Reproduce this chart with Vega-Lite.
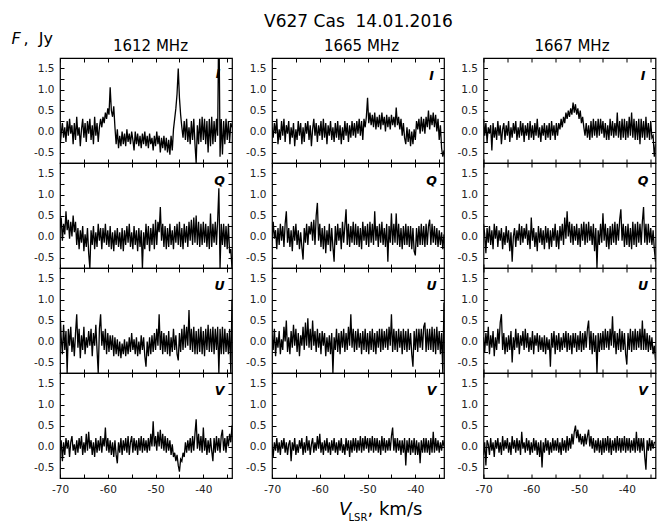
{
"$schema": "https://vega.github.io/schema/vega-lite/v6.json",
"padding": {"left": 10, "top": 13, "right": 0, "bottom": 0},
"background": "white",
"config": {
  "font": "DejaVu Sans",
  "view": {"stroke": "black", "strokeWidth": 1.2},
  "axis": {"grid": false, "domain": false, "tickColor": "black", "tickSize": -4, "tickWidth": 1, "labelFont": "DejaVu Sans", "labelFontSize": 10.5, "labelColor": "#222", "labelPadding": 10, "labelFlush": false, "titleFont": "DejaVu Sans", "titleColor": "black", "titleFontWeight": "normal"},
  "axisBottom": {"labelPadding": 10},
  "title": {"font": "DejaVu Sans", "fontWeight": "normal", "color": "black"}
},
"data": {"values": [
{"v":-70,"I1612":-0.4,"Q1612":0.2,"U1612":0.75,"V1612":-0.1,"I1665":0.1,"Q1665":-0.1,"U1665":0.15,"V1665":0.05,"I1667":0.3,"Q1667":0.3,"U1667":0.1,"V1667":-0.2},
{"v":-69.75,"I1612":-0.05,"Q1612":0.45,"U1612":0.1,"V1612":0.15,"I1665":-0.15,"Q1665":0.35,"U1665":-0.2,"V1665":-0.25,"I1667":-0.1,"Q1667":0.05,"U1667":-0.25,"V1667":0.1},
{"v":-69.5,"I1612":0.2,"Q1612":-0.1,"U1612":-0.3,"V1612":-0.35,"I1665":0.2,"Q1665":-0.05,"U1665":0.3,"V1665":0.1,"I1667":0.2,"Q1667":-0.4,"U1667":0.2,"V1667":-0.45},
{"v":-69.25,"I1612":-0.15,"Q1612":0.3,"U1612":0.4,"V1612":0.1,"I1665":-0.05,"Q1665":0.15,"U1665":-0.35,"V1665":-0.1,"I1667":-0.25,"Q1667":0.2,"U1667":-0.1,"V1667":0.15},
{"v":-69,"I1612":0.1,"Q1612":0.05,"U1612":-0.2,"V1612":-0.2,"I1665":0.3,"Q1665":-0.3,"U1665":0.1,"V1665":0.2,"I1667":0.1,"Q1667":-0.15,"U1667":0.35,"V1667":0.05},
{"v":-68.75,"I1612":-0.25,"Q1612":0.6,"U1612":0.25,"V1612":0.2,"I1665":-0.3,"Q1665":0.2,"U1665":-0.15,"V1665":-0.15,"I1667":-0.05,"Q1667":0.25,"U1667":-0.3,"V1667":-0.2},
{"v":-68.5,"I1612":0.25,"Q1612":0.15,"U1612":-0.75,"V1612":-0.05,"I1665":0.05,"Q1665":-0.2,"U1665":0.25,"V1665":0.1,"I1667":0.15,"Q1667":-0.2,"U1667":0.15,"V1667":0.2},
{"v":-68.25,"I1612":-0.1,"Q1612":0.4,"U1612":0.3,"V1612":0.15,"I1665":-0.2,"Q1665":0.3,"U1665":-0.3,"V1665":-0.2,"I1667":-0.45,"Q1667":0.15,"U1667":-0.15,"V1667":-0.1},
{"v":-68,"I1612":0.3,"Q1612":-0.05,"U1612":-0.1,"V1612":-0.25,"I1665":0.25,"Q1665":-0.1,"U1665":0.05,"V1665":0.15,"I1667":0.2,"Q1667":-0.3,"U1667":0.25,"V1667":0.1},
{"v":-67.75,"I1612":-0.05,"Q1612":0.35,"U1612":0.35,"V1612":0.1,"I1665":-0.1,"Q1665":0.25,"U1665":-0.2,"V1665":-0.05,"I1667":-0.15,"Q1667":0.3,"U1667":-0.35,"V1667":-0.25},
{"v":-67.5,"I1612":0.15,"Q1612":0,"U1612":-0.25,"V1612":0.25,"I1665":0.3,"Q1665":-0.25,"U1665":0.35,"V1665":0.2,"I1667":0.1,"Q1667":-0.05,"U1667":0.1,"V1667":0.15},
{"v":-67.25,"I1612":-0.3,"Q1612":0.5,"U1612":0.1,"V1612":-0.1,"I1665":-0.25,"Q1665":0.3,"U1665":0,"V1665":-0.15,"I1667":-0.2,"Q1667":0.25,"U1667":-0.2,"V1667":-0.05},
{"v":-67,"I1612":0.2,"Q1612":0.1,"U1612":-0.35,"V1612":0.05,"I1665":0.15,"Q1665":0.6,"U1665":0.5,"V1665":0.1,"I1667":0.25,"Q1667":-0.25,"U1667":0.3,"V1667":0.2},
{"v":-66.75,"I1612":-0.2,"Q1612":0.35,"U1612":0.2,"V1612":-0.2,"I1665":-0.05,"Q1665":-0.15,"U1665":-0.25,"V1665":-0.2,"I1667":-0.1,"Q1667":0.15,"U1667":-0.05,"V1667":-0.15},
{"v":-66.5,"I1612":0.35,"Q1612":-0.2,"U1612":0.65,"V1612":0.15,"I1665":0.25,"Q1665":0.2,"U1665":0.1,"V1665":0.05,"I1667":0.15,"Q1667":-0.1,"U1667":0.45,"V1667":0.1},
{"v":-66.25,"I1612":-0.1,"Q1612":0.2,"U1612":-0.15,"V1612":-0.15,"I1665":-0.3,"Q1665":-0.25,"U1665":-0.3,"V1665":0.15,"I1667":-0.3,"Q1667":0.2,"U1667":0.65,"V1667":-0.2},
{"v":-66,"I1612":0.1,"Q1612":-0.3,"U1612":0.3,"V1612":0.2,"I1665":0.1,"Q1665":0.15,"U1665":0.25,"V1665":-0.35,"I1667":0.05,"Q1667":-0.3,"U1667":-0.2,"V1667":0.25},
{"v":-65.75,"I1612":-0.35,"Q1612":0.15,"U1612":-0.4,"V1612":-0.05,"I1665":-0.15,"Q1665":-0.35,"U1665":-0.15,"V1665":0.1,"I1667":0.2,"Q1667":0.1,"U1667":0.2,"V1667":-0.1},
{"v":-65.5,"I1612":0.05,"Q1612":-0.15,"U1612":0.15,"V1612":0.25,"I1665":0.2,"Q1665":0.25,"U1665":0.4,"V1665":-0.1,"I1667":-0.2,"Q1667":-0.2,"U1667":-0.3,"V1667":0.15},
{"v":-65.25,"I1612":0.3,"Q1612":0.25,"U1612":-0.2,"V1612":-0.2,"I1665":-0.35,"Q1665":-0.1,"U1665":-0.1,"V1665":0.2,"I1667":0.15,"Q1667":0.25,"U1667":0.1,"V1667":-0.05},
{"v":-65,"I1612":-0.15,"Q1612":-0.35,"U1612":0.35,"V1612":0.1,"I1665":0.05,"Q1665":0.3,"U1665":0.3,"V1665":-0.2,"I1667":-0.1,"Q1667":-0.15,"U1667":-0.25,"V1667":0.2},
{"v":-64.75,"I1612":0.2,"Q1612":0.05,"U1612":-0.3,"V1612":-0.15,"I1665":-0.2,"Q1665":-0.2,"U1665":-0.25,"V1665":0.05,"I1667":0.25,"Q1667":0.15,"U1667":0.15,"V1667":-0.15},
{"v":-64.5,"I1612":-0.25,"Q1612":-0.25,"U1612":0.1,"V1612":0.3,"I1665":0.25,"Q1665":0.15,"U1665":0.2,"V1665":-0.15,"I1667":-0.25,"Q1667":-0.35,"U1667":-0.2,"V1667":0.1},
{"v":-64.25,"I1612":0.25,"Q1612":0.2,"U1612":-0.15,"V1612":-0.1,"I1665":-0.1,"Q1665":-0.3,"U1665":-0.35,"V1665":0.15,"I1667":0.1,"Q1667":0.1,"U1667":0.25,"V1667":-0.2},
{"v":-64,"I1612":-0.05,"Q1612":-0.4,"U1612":0.25,"V1612":0.35,"I1665":0.2,"Q1665":0.1,"U1665":0.15,"V1665":-0.05,"I1667":-0.15,"Q1667":-0.6,"U1667":-0.5,"V1667":0.25},
{"v":-63.75,"I1612":0.3,"Q1612":-0.75,"U1612":-0.1,"V1612":-0.05,"I1665":-0.3,"Q1665":-0.25,"U1665":-0.1,"V1665":0.2,"I1667":0.2,"Q1667":0,"U1667":0.1,"V1667":-0.05},
{"v":-63.5,"I1612":-0.2,"Q1612":0.15,"U1612":0.3,"V1612":0.15,"I1665":0.1,"Q1665":-0.55,"U1665":0.35,"V1665":-0.2,"I1667":-0.05,"Q1667":0.2,"U1667":-0.2,"V1667":0.15},
{"v":-63.25,"I1612":0.15,"Q1612":-0.2,"U1612":-0.35,"V1612":-0.2,"I1665":-0.25,"Q1665":0.2,"U1665":-0.2,"V1665":0.1,"I1667":0.25,"Q1667":-0.25,"U1667":0.3,"V1667":-0.15},
{"v":-63,"I1612":-0.3,"Q1612":0.25,"U1612":0.2,"V1612":0.1,"I1665":0.2,"Q1665":-0.15,"U1665":0.45,"V1665":-0.15,"I1667":-0.2,"Q1667":0.15,"U1667":-0.15,"V1667":0.2},
{"v":-62.75,"I1612":0.35,"Q1612":-0.3,"U1612":-0.1,"V1612":-0.25,"I1665":-0.05,"Q1665":0.3,"U1665":-0.1,"V1665":0.25,"I1667":0.1,"Q1667":-0.1,"U1667":0.2,"V1667":-0.1},
{"v":-62.5,"I1612":-0.1,"Q1612":0.1,"U1612":0.4,"V1612":0.2,"I1665":0.25,"Q1665":-0.2,"U1665":0.55,"V1665":-0.1,"I1667":-0.15,"Q1667":0.3,"U1667":-0.3,"V1667":0.15},
{"v":-62.25,"I1612":0.2,"Q1612":-0.25,"U1612":-0.2,"V1612":-0.15,"I1665":-0.2,"Q1665":0.25,"U1665":-0.15,"V1665":0.15,"I1667":0.25,"Q1667":-0.2,"U1667":0.15,"V1667":-0.2},
{"v":-62,"I1612":-0.25,"Q1612":0.3,"U1612":-0.75,"V1612":0.15,"I1665":0.15,"Q1665":0.05,"U1665":0.3,"V1665":-0.2,"I1667":-0.1,"Q1667":0.25,"U1667":-0.1,"V1667":0.35},
{"v":-61.75,"I1612":0.1,"Q1612":-0.1,"U1612":0.3,"V1612":-0.1,"I1665":-0.35,"Q1665":0.35,"U1665":-0.2,"V1665":0.05,"I1667":0.2,"Q1667":-0.15,"U1667":0.25,"V1667":-0.05},
{"v":-61.5,"I1612":0.3,"Q1612":0.2,"U1612":0.65,"V1612":0.25,"I1665":0.05,"Q1665":-0.1,"U1665":0.5,"V1665":0.2,"I1667":-0.25,"Q1667":0.2,"U1667":-0.2,"V1667":0.1},
{"v":-61.25,"I1612":0.1,"Q1612":-0.3,"U1612":-0.1,"V1612":-0.15,"I1665":0.3,"Q1665":0.4,"U1665":-0.1,"V1665":-0.15,"I1667":0.15,"Q1667":-0.05,"U1667":0.3,"V1667":-0.15},
{"v":-61,"I1612":0.35,"Q1612":0.2,"U1612":0.25,"V1612":0.2,"I1665":-0.1,"Q1665":-0.2,"U1665":0.25,"V1665":0.1,"I1667":-0.1,"Q1667":0.3,"U1667":-0.15,"V1667":0.2},
{"v":-60.75,"I1612":0.2,"Q1612":-0.15,"U1612":-0.2,"V1612":0,"I1665":0.2,"Q1665":0.5,"U1665":-0.25,"V1665":-0.1,"I1667":0.2,"Q1667":-0.2,"U1667":0.2,"V1667":-0.1},
{"v":-60.5,"I1612":0.45,"Q1612":0.3,"U1612":0.3,"V1612":0.45,"I1665":-0.25,"Q1665":0.8,"U1665":0.3,"V1665":0.25,"I1667":-0.2,"Q1667":0.15,"U1667":-0.25,"V1667":0.15},
{"v":-60.25,"I1612":0.3,"Q1612":-0.2,"U1612":-0.3,"V1612":-0.1,"I1665":0.15,"Q1665":-0.1,"U1665":-0.15,"V1665":-0.05,"I1667":0.25,"Q1667":-0.3,"U1667":0.1,"V1667":-0.2},
{"v":-60,"I1612":0.55,"Q1612":0.15,"U1612":0.2,"V1612":0.2,"I1665":-0.1,"Q1665":0.3,"U1665":0.2,"V1665":0.3,"I1667":-0.15,"Q1667":0.45,"U1667":-0.2,"V1667":0.1},
{"v":-59.75,"I1612":0.4,"Q1612":-0.25,"U1612":-0.25,"V1612":-0.15,"I1665":0.25,"Q1665":-0.25,"U1665":-0.3,"V1665":-0.15,"I1667":0.15,"Q1667":-0.1,"U1667":0.25,"V1667":-0.15},
{"v":-59.5,"I1612":1.05,"Q1612":0.25,"U1612":0.15,"V1612":0.15,"I1665":-0.2,"Q1665":0.2,"U1665":0.25,"V1665":0.1,"I1667":-0.2,"Q1667":0.2,"U1667":-0.3,"V1667":0.2},
{"v":-59.25,"I1612":0.5,"Q1612":-0.3,"U1612":-0.2,"V1612":-0.2,"I1665":0.3,"Q1665":-0.3,"U1665":-0.1,"V1665":-0.2,"I1667":0.2,"Q1667":-0.25,"U1667":0.15,"V1667":-0.1},
{"v":-59,"I1612":0.35,"Q1612":0.1,"U1612":0.15,"V1612":0.1,"I1665":-0.15,"Q1665":0.25,"U1665":0.2,"V1665":0.15,"I1667":-0.1,"Q1667":0.1,"U1667":-0.1,"V1667":0.15},
{"v":-58.75,"I1612":0.6,"Q1612":-0.35,"U1612":-0.35,"V1612":-0.25,"I1665":0.2,"Q1665":-0.4,"U1665":-0.35,"V1665":-0.1,"I1667":0.3,"Q1667":-0.35,"U1667":0.2,"V1667":-0.2},
{"v":-58.5,"I1612":0.1,"Q1612":0.15,"U1612":0.1,"V1612":0.15,"I1665":-0.3,"Q1665":0.15,"U1665":0.1,"V1665":0.2,"I1667":-0.15,"Q1667":0.25,"U1667":-0.25,"V1667":0.1},
{"v":-58.25,"I1612":-0.3,"Q1612":-0.2,"U1612":-0.3,"V1612":-0.2,"I1665":0.15,"Q1665":-0.2,"U1665":-0.25,"V1665":-0.15,"I1667":0.1,"Q1667":-0.15,"U1667":0.15,"V1667":-0.25},
{"v":-58,"I1612":0.05,"Q1612":0.2,"U1612":0.05,"V1612":-0.4,"I1665":-0.1,"Q1665":0.3,"U1665":0.15,"V1665":0.1,"I1667":-0.25,"Q1667":0.2,"U1667":-0.2,"V1667":0.15},
{"v":-57.75,"I1612":-0.4,"Q1612":-0.25,"U1612":-0.35,"V1612":0.1,"I1665":0.25,"Q1665":-0.35,"U1665":-0.3,"V1665":-0.2,"I1667":0.15,"Q1667":-0.2,"U1667":0.1,"V1667":-0.5},
{"v":-57.5,"I1612":-0.1,"Q1612":0.1,"U1612":0,"V1612":-0.15,"I1665":-0.2,"Q1665":0.2,"U1665":0.2,"V1665":0.15,"I1667":-0.1,"Q1667":0.15,"U1667":-0.25,"V1667":0.1},
{"v":-57.25,"I1612":-0.35,"Q1612":-0.3,"U1612":-0.4,"V1612":0.2,"I1665":0.1,"Q1665":-0.25,"U1665":-0.75,"V1665":-0.1,"I1667":0.2,"Q1667":-0.3,"U1667":0.15,"V1667":-0.15},
{"v":-57,"I1612":0,"Q1612":0.2,"U1612":-0.05,"V1612":-0.2,"I1665":-0.25,"Q1665":-0.6,"U1665":0.1,"V1665":0.2,"I1667":-0.2,"Q1667":0.25,"U1667":-0.3,"V1667":0.2},
{"v":-56.75,"I1612":-0.3,"Q1612":-0.35,"U1612":-0.3,"V1612":0.15,"I1665":0.2,"Q1665":0.25,"U1665":-0.2,"V1665":-0.15,"I1667":0.15,"Q1667":-0.15,"U1667":0.1,"V1667":-0.1},
{"v":-56.5,"I1612":-0.05,"Q1612":0.15,"U1612":0.05,"V1612":-0.1,"I1665":-0.15,"Q1665":-0.2,"U1665":0.3,"V1665":0.1,"I1667":-0.15,"Q1667":0.2,"U1667":-0.2,"V1667":0.15},
{"v":-56.25,"I1612":-0.35,"Q1612":-0.2,"U1612":-0.35,"V1612":0.2,"I1665":0.25,"Q1665":0.3,"U1665":-0.25,"V1665":-0.2,"I1667":0.2,"Q1667":-0.3,"U1667":0.05,"V1667":-0.2},
{"v":-56,"I1612":0.05,"Q1612":0.25,"U1612":0,"V1612":-0.15,"I1665":-0.2,"Q1665":-0.1,"U1665":0.2,"V1665":0.15,"I1667":-0.2,"Q1667":0.15,"U1667":-0.6,"V1667":0.1},
{"v":-55.75,"I1612":-0.25,"Q1612":-0.15,"U1612":-0.3,"V1612":0.25,"I1665":0.15,"Q1665":0.2,"U1665":-0.3,"V1665":-0.1,"I1667":0.25,"Q1667":-0.25,"U1667":0.2,"V1667":-0.15},
{"v":-55.5,"I1612":-0.05,"Q1612":0.3,"U1612":0.1,"V1612":-0.2,"I1665":-0.3,"Q1665":-0.3,"U1665":0.25,"V1665":0.2,"I1667":-0.1,"Q1667":0.2,"U1667":-0.15,"V1667":0.2},
{"v":-55.25,"I1612":-0.3,"Q1612":-0.25,"U1612":-0.25,"V1612":0.1,"I1665":0.1,"Q1665":0.35,"U1665":-0.15,"V1665":-0.15,"I1667":0.15,"Q1667":-0.1,"U1667":0.25,"V1667":-0.1},
{"v":-55,"I1612":0,"Q1612":0.1,"U1612":0.2,"V1612":0.25,"I1665":-0.2,"Q1665":-0.15,"U1665":0.3,"V1665":0.05,"I1667":-0.2,"Q1667":0.3,"U1667":-0.3,"V1667":0.15},
{"v":-54.75,"I1612":-0.2,"Q1612":-0.3,"U1612":-0.2,"V1612":-0.15,"I1665":0.25,"Q1665":0.25,"U1665":-0.25,"V1665":-0.2,"I1667":0.2,"Q1667":-0.25,"U1667":0.15,"V1667":-0.1},
{"v":-54.5,"I1612":-0.45,"Q1612":0.25,"U1612":0.05,"V1612":0.2,"I1665":-0.1,"Q1665":0.65,"U1665":0.2,"V1665":0.2,"I1667":-0.1,"Q1667":0.15,"U1667":-0.2,"V1667":0.2},
{"v":-54.25,"I1612":0,"Q1612":-0.2,"U1612":-0.3,"V1612":-0.1,"I1665":0.2,"Q1665":-0.2,"U1665":-0.2,"V1665":-0.1,"I1667":0.2,"Q1667":-0.3,"U1667":0.2,"V1667":-0.15},
{"v":-54,"I1612":-0.3,"Q1612":0.15,"U1612":0.1,"V1612":0.15,"I1665":-0.25,"Q1665":0.3,"U1665":0.35,"V1665":0.15,"I1667":0.05,"Q1667":0.25,"U1667":-0.25,"V1667":0.1},
{"v":-53.75,"I1612":-0.05,"Q1612":-0.35,"U1612":-0.35,"V1612":-0.2,"I1665":0.15,"Q1665":-0.25,"U1665":-0.1,"V1665":-0.25,"I1667":0.3,"Q1667":-0.1,"U1667":0.1,"V1667":-0.2},
{"v":-53.5,"I1612":-0.35,"Q1612":0.2,"U1612":0,"V1612":0.2,"I1665":-0.15,"Q1665":0.25,"U1665":0.65,"V1665":0.15,"I1667":0.1,"Q1667":0.3,"U1667":-0.2,"V1667":0.2},
{"v":-53.25,"I1612":-0.1,"Q1612":-0.25,"U1612":-0.3,"V1612":-0.1,"I1665":0.25,"Q1665":-0.15,"U1665":-0.15,"V1665":-0.15,"I1667":0.35,"Q1667":-0.2,"U1667":0.2,"V1667":-0.1},
{"v":-53,"I1612":-0.4,"Q1612":0.15,"U1612":0.15,"V1612":0.25,"I1665":-0.1,"Q1665":0.35,"U1665":0.3,"V1665":0.2,"I1667":0.2,"Q1667":0.45,"U1667":-0.15,"V1667":0.15},
{"v":-52.75,"I1612":-0.05,"Q1612":-0.75,"U1612":-0.2,"V1612":-0.15,"I1665":0.2,"Q1665":-0.2,"U1665":-0.25,"V1665":-0.1,"I1667":0.45,"Q1667":-0.05,"U1667":0.25,"V1667":-0.15},
{"v":-52.5,"I1612":-0.3,"Q1612":0.1,"U1612":0.1,"V1612":0.2,"I1665":-0.15,"Q1665":0.3,"U1665":0.25,"V1665":0.2,"I1667":0.3,"Q1667":0.6,"U1667":-0.25,"V1667":0.25},
{"v":-52.25,"I1612":0,"Q1612":-0.3,"U1612":-0.35,"V1612":-0.1,"I1665":0.25,"Q1665":-0.2,"U1665":-0.2,"V1665":-0.15,"I1667":0.5,"Q1667":0,"U1667":0.2,"V1667":-0.1},
{"v":-52,"I1612":-0.35,"Q1612":0.3,"U1612":-0.6,"V1612":0.15,"I1665":-0.05,"Q1665":0.25,"U1665":0.3,"V1665":0.15,"I1667":0.35,"Q1667":0.35,"U1667":-0.2,"V1667":0.2},
{"v":-51.75,"I1612":-0.1,"Q1612":-0.2,"U1612":0,"V1612":-0.15,"I1665":0.3,"Q1665":-0.25,"U1665":-0.15,"V1665":-0.1,"I1667":0.55,"Q1667":-0.15,"U1667":0.15,"V1667":-0.05},
{"v":-51.5,"I1612":-0.4,"Q1612":0.25,"U1612":-0.35,"V1612":0.2,"I1665":-0.1,"Q1665":0.2,"U1665":0.2,"V1665":0.25,"I1667":0.4,"Q1667":0.3,"U1667":-0.3,"V1667":0.3},
{"v":-51.25,"I1612":-0.05,"Q1612":-0.35,"U1612":0.1,"V1612":-0.1,"I1665":0.25,"Q1665":-0.3,"U1665":-0.3,"V1665":-0.15,"I1667":0.69,"Q1667":-0.2,"U1667":0.2,"V1667":0.05},
{"v":-51,"I1612":-0.3,"Q1612":0.2,"U1612":-0.3,"V1612":0.3,"I1665":-0.2,"Q1665":0.35,"U1665":0.25,"V1665":0.2,"I1667":0.45,"Q1667":0.25,"U1667":-0.15,"V1667":0.35},
{"v":-50.75,"I1612":-0.15,"Q1612":-0.2,"U1612":0.15,"V1612":0,"I1665":0.3,"Q1665":-0.1,"U1665":-0.2,"V1665":-0.1,"I1667":0.65,"Q1667":-0.1,"U1667":0.2,"V1667":0.5},
{"v":-50.5,"I1612":-0.45,"Q1612":0.3,"U1612":-0.25,"V1612":0.6,"I1665":0.1,"Q1665":0.25,"U1665":0.3,"V1665":0.25,"I1667":0.4,"Q1667":0.3,"U1667":-0.25,"V1667":0.2},
{"v":-50.25,"I1612":-0.1,"Q1612":-0.3,"U1612":0.2,"V1612":0,"I1665":0.35,"Q1665":-0.2,"U1665":-0.25,"V1665":-0.05,"I1667":0.55,"Q1667":-0.2,"U1667":0.15,"V1667":0.4},
{"v":-50,"I1612":-0.35,"Q1612":0.4,"U1612":-0.2,"V1612":0.25,"I1665":0.8,"Q1665":0.3,"U1665":0.2,"V1665":0.2,"I1667":0.3,"Q1667":0.2,"U1667":-0.2,"V1667":0.1},
{"v":-49.75,"I1612":0,"Q1612":-0.2,"U1612":0.3,"V1612":-0.1,"I1665":0.2,"Q1665":-0.25,"U1665":-0.3,"V1665":-0.15,"I1667":0.5,"Q1667":-0.25,"U1667":0.25,"V1667":0.3},
{"v":-49.5,"I1612":-0.3,"Q1612":0.35,"U1612":-0.1,"V1612":0.35,"I1665":0.45,"Q1665":0.35,"U1665":0.25,"V1665":0.2,"I1667":0.2,"Q1667":0.3,"U1667":-0.25,"V1667":0.05},
{"v":-49.25,"I1612":-0.1,"Q1612":0.1,"U1612":0.65,"V1612":0,"I1665":0.15,"Q1665":-0.15,"U1665":-0.2,"V1665":-0.1,"I1667":0.35,"Q1667":-0.1,"U1667":0.2,"V1667":0.25},
{"v":-49,"I1612":-0.5,"Q1612":0.7,"U1612":-0.2,"V1612":0.4,"I1665":0.4,"Q1665":0.3,"U1665":0.3,"V1665":0.25,"I1667":0.1,"Q1667":0.35,"U1667":-0.2,"V1667":0},
{"v":-48.75,"I1612":-0.15,"Q1612":-0.1,"U1612":0.25,"V1612":-0.05,"I1665":0.1,"Q1665":-0.2,"U1665":-0.25,"V1665":-0.15,"I1667":-0.1,"Q1667":-0.2,"U1667":0.25,"V1667":0.3},
{"v":-48.5,"I1612":-0.4,"Q1612":0.3,"U1612":-0.3,"V1612":0.3,"I1665":0.45,"Q1665":0.6,"U1665":0.2,"V1665":0.2,"I1667":0.2,"Q1667":0.3,"U1667":-0.15,"V1667":0.05},
{"v":-48.25,"I1612":-0.1,"Q1612":-0.25,"U1612":0.2,"V1612":-0.1,"I1665":0.05,"Q1665":-0.1,"U1665":-0.3,"V1665":-0.1,"I1667":-0.15,"Q1667":-0.15,"U1667":0.3,"V1667":0.25},
{"v":-48,"I1612":-0.45,"Q1612":0.25,"U1612":-0.25,"V1612":0.25,"I1665":0.35,"Q1665":0.25,"U1665":0.25,"V1665":0.2,"I1667":0.15,"Q1667":0.35,"U1667":0.5,"V1667":0.4},
{"v":-47.75,"I1612":-0.15,"Q1612":-0.3,"U1612":0.15,"V1612":-0.15,"I1665":0.1,"Q1665":-0.25,"U1665":-0.15,"V1665":-0.15,"I1667":-0.2,"Q1667":-0.1,"U1667":-0.2,"V1667":0},
{"v":-47.5,"I1612":-0.5,"Q1612":0.2,"U1612":-0.3,"V1612":0.2,"I1665":0.4,"Q1665":0.3,"U1665":0.3,"V1665":0.15,"I1667":0.25,"Q1667":0.25,"U1667":0.25,"V1667":0.25},
{"v":-47.25,"I1612":-0.2,"Q1612":-0.25,"U1612":0.25,"V1612":-0.1,"I1665":0.05,"Q1665":-0.15,"U1665":-0.25,"V1665":-0.2,"I1667":-0.15,"Q1667":-0.2,"U1667":-0.3,"V1667":-0.05},
{"v":-47,"I1612":-0.55,"Q1612":0.3,"U1612":-0.35,"V1612":0.15,"I1665":0.45,"Q1665":0.35,"U1665":0.3,"V1665":0.25,"I1667":0.3,"Q1667":0.3,"U1667":0.2,"V1667":0.2},
{"v":-46.75,"I1612":-0.1,"Q1612":-0.2,"U1612":0.1,"V1612":-0.2,"I1665":0.15,"Q1665":-0.2,"U1665":-0.2,"V1665":-0.1,"I1667":-0.1,"Q1667":-0.35,"U1667":-0.25,"V1667":-0.15},
{"v":-46.5,"I1612":-0.45,"Q1612":0.15,"U1612":-0.25,"V1612":0.05,"I1665":0.35,"Q1665":0.2,"U1665":0.25,"V1665":0.2,"I1667":0.25,"Q1667":0.2,"U1667":0.15,"V1667":0.15},
{"v":-46.25,"I1612":0.05,"Q1612":-0.3,"U1612":0.3,"V1612":-0.25,"I1665":0,"Q1665":-0.25,"U1665":-0.15,"V1665":-0.15,"I1667":-0.15,"Q1667":-0.75,"U1667":-0.75,"V1667":-0.1},
{"v":-46,"I1612":0.3,"Q1612":0.25,"U1612":-0.2,"V1612":-0.15,"I1665":0.4,"Q1665":0.3,"U1665":0.3,"V1665":0.15,"I1667":0.3,"Q1667":0.15,"U1667":0.2,"V1667":0.2},
{"v":-45.75,"I1612":0.55,"Q1612":-0.15,"U1612":0.15,"V1612":-0.35,"I1665":0.1,"Q1665":-0.6,"U1665":-0.2,"V1665":-0.1,"I1667":-0.1,"Q1667":-0.2,"U1667":-0.25,"V1667":-0.15},
{"v":-45.5,"I1612":0.9,"Q1612":0.3,"U1612":-0.3,"V1612":-0.2,"I1665":0.35,"Q1665":0.25,"U1665":0.35,"V1665":0.2,"I1667":0.3,"Q1667":0.3,"U1667":0.2,"V1667":0.15},
{"v":-45.25,"I1612":1.5,"Q1612":-0.2,"U1612":-0.45,"V1612":-0.45,"I1665":0.05,"Q1665":-0.15,"U1665":-0.1,"V1665":-0.1,"I1667":-0.05,"Q1667":-0.15,"U1667":-0.2,"V1667":-0.2},
{"v":-45,"I1612":0.8,"Q1612":0.35,"U1612":0.2,"V1612":-0.6,"I1665":0.4,"Q1665":0.55,"U1665":0.65,"V1665":0.25,"I1667":0.25,"Q1667":0.55,"U1667":0.25,"V1667":0.2},
{"v":-44.75,"I1612":0.4,"Q1612":-0.25,"U1612":-0.25,"V1612":-0.3,"I1665":0.15,"Q1665":-0.2,"U1665":-0.25,"V1665":0.45,"I1667":-0.15,"Q1667":-0.1,"U1667":-0.2,"V1667":-0.15},
{"v":-44.5,"I1612":0.1,"Q1612":0.2,"U1612":0.3,"V1612":-0.35,"I1665":0.35,"Q1665":0.3,"U1665":0.3,"V1665":-0.1,"I1667":0.2,"Q1667":0.3,"U1667":0.3,"V1667":0.2},
{"v":-44.25,"I1612":-0.15,"Q1612":-0.3,"U1612":-0.2,"V1612":-0.15,"I1665":0.1,"Q1665":-0.15,"U1665":-0.2,"V1665":0.2,"I1667":-0.2,"Q1667":-0.25,"U1667":-0.15,"V1667":-0.1},
{"v":-44,"I1612":0.25,"Q1612":0.3,"U1612":0.4,"V1612":-0.25,"I1665":0.57,"Q1665":0.55,"U1665":0.25,"V1665":-0.15,"I1667":0.15,"Q1667":0.2,"U1667":0.25,"V1667":0.25},
{"v":-43.75,"I1612":-0.2,"Q1612":-0.15,"U1612":-0.15,"V1612":0.1,"I1665":0.15,"Q1665":-0.2,"U1665":-0.25,"V1665":0.2,"I1667":-0.2,"Q1667":-0.3,"U1667":-0.2,"V1667":-0.15},
{"v":-43.5,"I1612":0.3,"Q1612":0.25,"U1612":0.35,"V1612":-0.15,"I1665":0.35,"Q1665":0.3,"U1665":0.3,"V1665":-0.1,"I1667":0.3,"Q1667":0.25,"U1667":0.3,"V1667":0.2},
{"v":-43.25,"I1612":-0.25,"Q1612":-0.25,"U1612":-0.1,"V1612":0.15,"I1665":0.05,"Q1665":-0.25,"U1665":-0.15,"V1665":0.15,"I1667":-0.1,"Q1667":-0.2,"U1667":-0.1,"V1667":-0.2},
{"v":-43,"I1612":0.1,"Q1612":0.35,"U1612":0.75,"V1612":-0.1,"I1665":0.3,"Q1665":0.2,"U1665":0.25,"V1665":-0.2,"I1667":0.25,"Q1667":0.3,"U1667":0.6,"V1667":0.15},
{"v":-42.75,"I1612":-0.3,"Q1612":-0.1,"U1612":-0.2,"V1612":0.2,"I1665":-0.1,"Q1665":-0.3,"U1665":-0.3,"V1665":0.15,"I1667":-0.15,"Q1667":-0.15,"U1667":-0.15,"V1667":-0.1},
{"v":-42.5,"I1612":0.25,"Q1612":0.4,"U1612":0.3,"V1612":-0.15,"I1665":0.2,"Q1665":0.25,"U1665":0.3,"V1665":-0.15,"I1667":0.2,"Q1667":0.35,"U1667":0.25,"V1667":0.2},
{"v":-42.25,"I1612":-0.2,"Q1612":-0.2,"U1612":-0.25,"V1612":0.25,"I1665":-0.15,"Q1665":-0.2,"U1665":-0.2,"V1665":0.2,"I1667":-0.1,"Q1667":-0.2,"U1667":-0.3,"V1667":-0.15},
{"v":-42,"I1612":0.3,"Q1612":0.45,"U1612":0.35,"V1612":-0.1,"I1665":-0.3,"Q1665":0.3,"U1665":0.25,"V1665":-0.45,"I1667":0.45,"Q1667":0.3,"U1667":0.2,"V1667":0.25},
{"v":-41.75,"I1612":-0.3,"Q1612":-0.15,"U1612":-0.3,"V1612":0.3,"I1665":0.1,"Q1665":-0.2,"U1665":-0.25,"V1665":0.15,"I1667":-0.15,"Q1667":-0.1,"U1667":-0.2,"V1667":-0.1},
{"v":-41.5,"I1612":-0.75,"Q1612":0.5,"U1612":0.25,"V1612":0.65,"I1665":-0.25,"Q1665":0.25,"U1665":0.3,"V1665":-0.15,"I1667":0.25,"Q1667":0.4,"U1667":0.3,"V1667":0.2},
{"v":-41.25,"I1612":0.15,"Q1612":-0.2,"U1612":-0.3,"V1612":-0.05,"I1665":0.05,"Q1665":-0.25,"U1665":-0.2,"V1665":0.2,"I1667":-0.2,"Q1667":0.65,"U1667":-0.25,"V1667":-0.15},
{"v":-41,"I1612":-0.3,"Q1612":0.35,"U1612":0.3,"V1612":0.3,"I1665":-0.35,"Q1665":0.25,"U1665":0.2,"V1665":-0.2,"I1667":0.3,"Q1667":-0.1,"U1667":0.25,"V1667":0.2},
{"v":-40.75,"I1612":0.3,"Q1612":-0.25,"U1612":-0.25,"V1612":-0.1,"I1665":0,"Q1665":-0.3,"U1665":-0.3,"V1665":0.15,"I1667":-0.15,"Q1667":0.3,"U1667":-0.2,"V1667":-0.1},
{"v":-40.5,"I1612":-0.25,"Q1612":0.3,"U1612":0.35,"V1612":0.25,"I1665":-0.3,"Q1665":0.2,"U1665":-0.6,"V1665":-0.15,"I1667":0.3,"Q1667":-0.25,"U1667":0.2,"V1667":0.25},
{"v":-40.25,"I1612":0.35,"Q1612":-0.2,"U1612":-0.3,"V1612":-0.15,"I1665":0.05,"Q1665":-0.35,"U1665":0.25,"V1665":0.2,"I1667":-0.2,"Q1667":0.25,"U1667":-0.3,"V1667":-0.15},
{"v":-40,"I1612":-0.2,"Q1612":0.35,"U1612":0.25,"V1612":0.45,"I1665":-0.2,"Q1665":-0.45,"U1665":-0.2,"V1665":-0.2,"I1667":0.25,"Q1667":-0.2,"U1667":-0.55,"V1667":0.2},
{"v":-39.75,"I1612":0.3,"Q1612":-0.15,"U1612":-0.35,"V1612":-0.1,"I1665":0.25,"Q1665":0.2,"U1665":0.3,"V1665":0.15,"I1667":-0.15,"Q1667":0.3,"U1667":0.2,"V1667":-0.1},
{"v":-39.5,"I1612":-0.3,"Q1612":0.3,"U1612":0.3,"V1612":0.2,"I1665":0.05,"Q1665":-0.25,"U1665":-0.25,"V1665":-0.2,"I1667":0.35,"Q1667":-0.25,"U1667":-0.2,"V1667":0.2},
{"v":-39.25,"I1612":0.25,"Q1612":-0.25,"U1612":-0.2,"V1612":-0.2,"I1665":0.3,"Q1665":0.25,"U1665":0.3,"V1665":0.1,"I1667":-0.1,"Q1667":0.2,"U1667":0.3,"V1667":-0.15},
{"v":-39,"I1612":-0.5,"Q1612":0.25,"U1612":0.4,"V1612":0.15,"I1665":-0.05,"Q1665":-0.2,"U1665":-0.15,"V1665":-0.4,"I1667":0.45,"Q1667":-0.3,"U1667":-0.25,"V1667":0.15},
{"v":-38.75,"I1612":0.3,"Q1612":-0.3,"U1612":-0.25,"V1612":-0.15,"I1665":0.35,"Q1665":0.3,"U1665":0.3,"V1665":0.15,"I1667":-0.15,"Q1667":0.35,"U1667":0.25,"V1667":-0.1},
{"v":-38.5,"I1612":-0.35,"Q1612":0.55,"U1612":0.3,"V1612":0.2,"I1665":0,"Q1665":-0.2,"U1665":-0.2,"V1665":-0.15,"I1667":0.3,"Q1667":-0.2,"U1667":-0.2,"V1667":0.2},
{"v":-38.25,"I1612":0.35,"Q1612":-0.25,"U1612":-0.25,"V1612":-0.1,"I1665":0.3,"Q1665":0.25,"U1665":0.35,"V1665":0.2,"I1667":-0.2,"Q1667":0.3,"U1667":0.3,"V1667":-0.15},
{"v":-38,"I1612":-0.3,"Q1612":0.3,"U1612":0.35,"V1612":-0.35,"I1665":-0.05,"Q1665":-0.25,"U1665":0.45,"V1665":-0.15,"I1667":0.25,"Q1667":-0.25,"U1667":-0.2,"V1667":0.35},
{"v":-37.75,"I1612":0.25,"Q1612":-0.15,"U1612":-0.3,"V1612":0.2,"I1665":0.35,"Q1665":0.3,"U1665":-0.25,"V1665":0.2,"I1667":-0.2,"Q1667":0.35,"U1667":0.25,"V1667":-0.1},
{"v":-37.5,"I1612":-0.25,"Q1612":0.35,"U1612":0.3,"V1612":-0.15,"I1665":0.1,"Q1665":-0.2,"U1665":0.3,"V1665":-0.15,"I1667":0.3,"Q1667":-0.15,"U1667":-0.15,"V1667":0.2},
{"v":-37.25,"I1612":0.3,"Q1612":-0.2,"U1612":-0.2,"V1612":0.25,"I1665":0.5,"Q1665":0.25,"U1665":-0.2,"V1665":0.15,"I1667":-0.3,"Q1667":0.3,"U1667":0.3,"V1667":-0.15},
{"v":-37,"I1612":-0.1,"Q1612":0.4,"U1612":0.35,"V1612":-0.1,"I1665":0.05,"Q1665":0.4,"U1665":0.3,"V1665":-0.2,"I1667":0.3,"Q1667":-0.2,"U1667":-0.2,"V1667":0.2},
{"v":-36.75,"I1612":3.0,"Q1612":1.15,"U1612":-0.75,"V1612":0.2,"I1665":0.4,"Q1665":-0.2,"U1665":-0.2,"V1665":0.2,"I1667":-0.15,"Q1667":0.35,"U1667":0.5,"V1667":-0.1},
{"v":-36.5,"I1612":-0.6,"Q1612":-0.75,"U1612":0.3,"V1612":-0.15,"I1665":0.15,"Q1665":0.3,"U1665":0.35,"V1665":-0.15,"I1667":0.25,"Q1667":0.7,"U1667":-0.2,"V1667":0.2},
{"v":-36.25,"I1612":0.3,"Q1612":0.3,"U1612":-0.3,"V1612":0.25,"I1665":0.45,"Q1665":-0.15,"U1665":-0.25,"V1665":0.35,"I1667":-0.2,"Q1667":-0.15,"U1667":0.3,"V1667":-0.25},
{"v":-36,"I1612":-0.55,"Q1612":-0.2,"U1612":0.35,"V1612":0.4,"I1665":0.1,"Q1665":0.25,"U1665":0.3,"V1665":-0.15,"I1667":0.35,"Q1667":0.3,"U1667":-0.2,"V1667":-0.55},
{"v":-35.75,"I1612":0.25,"Q1612":0.3,"U1612":-0.3,"V1612":-0.1,"I1665":0.4,"Q1665":-0.2,"U1665":-0.3,"V1665":0.2,"I1667":-0.15,"Q1667":-0.2,"U1667":0.2,"V1667":0.15},
{"v":-35.5,"I1612":-0.3,"Q1612":-0.25,"U1612":0.3,"V1612":0.2,"I1665":0,"Q1665":0.2,"U1665":0.35,"V1665":-0.1,"I1667":0.2,"Q1667":0.3,"U1667":-0.25,"V1667":-0.1},
{"v":-35.25,"I1612":0.3,"Q1612":0.25,"U1612":-0.25,"V1612":-0.15,"I1665":0.3,"Q1665":-0.25,"U1665":-0.2,"V1665":0.15,"I1667":-0.2,"Q1667":-0.15,"U1667":0.15,"V1667":0.2},
{"v":-35,"I1612":-0.2,"Q1612":-0.3,"U1612":0.2,"V1612":0.25,"I1665":-0.2,"Q1665":0.15,"U1665":0.25,"V1665":-0.15,"I1667":0.25,"Q1667":0.2,"U1667":-0.2,"V1667":-0.1},
{"v":-34.75,"I1612":0.25,"Q1612":0.3,"U1612":-0.3,"V1612":0,"I1665":0.15,"Q1665":-0.2,"U1665":-0.3,"V1665":0.1,"I1667":-0.15,"Q1667":-0.2,"U1667":0.1,"V1667":0.15},
{"v":-34.5,"I1612":-0.25,"Q1612":-0.4,"U1612":0.3,"V1612":0.3,"I1665":-0.4,"Q1665":0.1,"U1665":0.2,"V1665":-0.1,"I1667":-0.1,"Q1667":0.15,"U1667":-0.3,"V1667":-0.05},
{"v":-34.25,"I1612":0.2,"Q1612":-0.3,"U1612":-0.75,"V1612":0.1,"I1665":-0.6,"Q1665":-0.3,"U1665":-0.75,"V1665":0.15,"I1667":-0.6,"Q1667":-0.3,"U1667":-0.1,"V1667":0.1},
{"v":-34,"I1612":0.1,"Q1612":-0.75,"U1612":1.0,"V1612":0.5,"I1665":-0.45,"Q1665":0.05,"U1665":0.93,"V1665":0,"I1667":-0.3,"Q1667":-0.6,"U1667":-0.45,"V1667":0.1}
]},
"title": {"text": "V627 Cas\u00a0 14.01.2016", "fontSize": 17, "anchor": "middle", "frame": "bounds", "baseline": "alphabetic", "offset": -15, "dx": 25},
"spacing": 10,
"hconcat": [
{"spacing": 0, "bounds": "flush",
 "vconcat": [
  {"width": 172, "height": 105, "layer": [
    {"mark": {"type": "line", "color": "black", "strokeWidth": 1.3, "clip": true},
     "encoding": {
      "x": {"field": "v", "type": "quantitative", "scale": {"domain": [-70, -34], "nice": false, "zero": false}, "axis": {"orient": "bottom", "values": [-70,-65,-60,-55,-50,-45,-40,-35], "labels": false, "title": null}},
      "y": {"field": "I1612", "type": "quantitative", "scale": {"domain": [-0.75, 1.75], "nice": false, "zero": false}, "axis": {"orient": "left", "values": [-0.5,-0.25,0,0.25,0.5,0.75,1,1.25,1.5], "labelExpr": "datum.value % 0.5 == 0 ? (datum.value < 0 ? '-' + format(-datum.value, '.1f') : format(datum.value, '.1f')) : ''", "title": "F", "titleX": -49, "titleY": -15, "titleAngle": 0, "titleAlign": "left", "titleBaseline": "alphabetic", "titleFontSize": 16, "titleFontStyle": "italic"}}}},
    {"data": {"values": [{}]},
     "mark": {"type": "text", "text": "I", "fontSize": 12.5, "fontWeight": "bold", "fontStyle": "italic"},
     "encoding": {
      "x": {"datum": -36.9, "type": "quantitative", "scale": {"domain": [-70, -34], "nice": false, "zero": false}, "axis": {"orient": "top", "values": [-70,-65,-60,-55,-50,-45,-40,-35], "labels": false, "title": "1612 MHz", "titleX": 90, "titleY": -7.5, "titleAlign": "center", "titleBaseline": "alphabetic", "titleFontSize": 15}},
      "y": {"datum": 1.36, "type": "quantitative", "scale": {"domain": [-0.75, 1.75], "nice": false, "zero": false}, "axis": {"orient": "right", "values": [-0.5,-0.25,0,0.25,0.5,0.75,1,1.25,1.5], "labels": false, "title": ",\u00a0 Jy", "titleX": -209, "titleY": -15, "titleAngle": 0, "titleAlign": "left", "titleBaseline": "alphabetic", "titleFontSize": 16}}}}
   ], "resolve": {"axis": {"x": "independent", "y": "independent"}}},
  {"width": 172, "height": 105, "layer": [
    {"mark": {"type": "line", "color": "black", "strokeWidth": 1.3, "clip": true},
     "encoding": {
      "x": {"field": "v", "type": "quantitative", "scale": {"domain": [-70, -34], "nice": false, "zero": false}, "axis": {"orient": "bottom", "values": [-70,-65,-60,-55,-50,-45,-40,-35], "labels": false, "title": null}},
      "y": {"field": "Q1612", "type": "quantitative", "scale": {"domain": [-0.75, 1.75], "nice": false, "zero": false}, "axis": {"orient": "left", "values": [-0.5,-0.25,0,0.25,0.5,0.75,1,1.25,1.5], "labelExpr": "datum.value % 0.5 == 0 ? (datum.value < 0 ? '-' + format(-datum.value, '.1f') : format(datum.value, '.1f')) : ''", "title": null}}}},
    {"data": {"values": [{}]},
     "mark": {"type": "text", "text": "Q", "fontSize": 12.5, "fontWeight": "bold", "fontStyle": "italic"},
     "encoding": {
      "x": {"datum": -36.6, "type": "quantitative", "scale": {"domain": [-70, -34], "nice": false, "zero": false}, "axis": {"orient": "top", "values": [-70,-65,-60,-55,-50,-45,-40,-35], "labels": false, "title": null}},
      "y": {"datum": 1.33, "type": "quantitative", "scale": {"domain": [-0.75, 1.75], "nice": false, "zero": false}, "axis": {"orient": "right", "values": [-0.5,-0.25,0,0.25,0.5,0.75,1,1.25,1.5], "labels": false, "title": null}}}}
   ], "resolve": {"axis": {"x": "independent", "y": "independent"}}},
  {"width": 172, "height": 105, "layer": [
    {"mark": {"type": "line", "color": "black", "strokeWidth": 1.3, "clip": true},
     "encoding": {
      "x": {"field": "v", "type": "quantitative", "scale": {"domain": [-70, -34], "nice": false, "zero": false}, "axis": {"orient": "bottom", "values": [-70,-65,-60,-55,-50,-45,-40,-35], "labels": false, "title": null}},
      "y": {"field": "U1612", "type": "quantitative", "scale": {"domain": [-0.75, 1.75], "nice": false, "zero": false}, "axis": {"orient": "left", "values": [-0.5,-0.25,0,0.25,0.5,0.75,1,1.25,1.5], "labelExpr": "datum.value % 0.5 == 0 ? (datum.value < 0 ? '-' + format(-datum.value, '.1f') : format(datum.value, '.1f')) : ''", "title": null}}}},
    {"data": {"values": [{}]},
     "mark": {"type": "text", "text": "U", "fontSize": 12.5, "fontWeight": "bold", "fontStyle": "italic"},
     "encoding": {
      "x": {"datum": -36.6, "type": "quantitative", "scale": {"domain": [-70, -34], "nice": false, "zero": false}, "axis": {"orient": "top", "values": [-70,-65,-60,-55,-50,-45,-40,-35], "labels": false, "title": null}},
      "y": {"datum": 1.33, "type": "quantitative", "scale": {"domain": [-0.75, 1.75], "nice": false, "zero": false}, "axis": {"orient": "right", "values": [-0.5,-0.25,0,0.25,0.5,0.75,1,1.25,1.5], "labels": false, "title": null}}}}
   ], "resolve": {"axis": {"x": "independent", "y": "independent"}}},
  {"width": 172, "height": 105, "layer": [
    {"mark": {"type": "line", "color": "black", "strokeWidth": 1.3, "clip": true},
     "encoding": {
      "x": {"field": "v", "type": "quantitative", "scale": {"domain": [-70, -34], "nice": false, "zero": false}, "axis": {"orient": "bottom", "values": [-70,-65,-60,-55,-50,-45,-40,-35], "labelExpr": "datum.value % 10 == 0 ? '-' + format(-datum.value, 'd') : ''", "title": null}},
      "y": {"field": "V1612", "type": "quantitative", "scale": {"domain": [-0.75, 1.75], "nice": false, "zero": false}, "axis": {"orient": "left", "values": [-0.5,-0.25,0,0.25,0.5,0.75,1,1.25,1.5], "labelExpr": "datum.value % 0.5 == 0 ? (datum.value < 0 ? '-' + format(-datum.value, '.1f') : format(datum.value, '.1f')) : ''", "title": null}}}},
    {"data": {"values": [{}]},
     "mark": {"type": "text", "text": "V", "fontSize": 12.5, "fontWeight": "bold", "fontStyle": "italic"},
     "encoding": {
      "x": {"datum": -36.6, "type": "quantitative", "scale": {"domain": [-70, -34], "nice": false, "zero": false}, "axis": {"orient": "top", "values": [-70,-65,-60,-55,-50,-45,-40,-35], "labels": false, "title": null}},
      "y": {"datum": 1.33, "type": "quantitative", "scale": {"domain": [-0.75, 1.75], "nice": false, "zero": false}, "axis": {"orient": "right", "values": [-0.5,-0.25,0,0.25,0.5,0.75,1,1.25,1.5], "labels": false, "title": null}}}}
   ], "resolve": {"axis": {"x": "independent", "y": "independent"}}}
 ]},
{"spacing": 9.5,
 "hconcat": [
{"spacing": 0, "bounds": "flush",
 "vconcat": [
  {"width": 172, "height": 105, "layer": [
    {"mark": {"type": "line", "color": "black", "strokeWidth": 1.3, "clip": true},
     "encoding": {
      "x": {"field": "v", "type": "quantitative", "scale": {"domain": [-70, -34], "nice": false, "zero": false}, "axis": {"orient": "bottom", "values": [-70,-65,-60,-55,-50,-45,-40,-35], "labels": false, "title": null}},
      "y": {"field": "I1665", "type": "quantitative", "scale": {"domain": [-0.75, 1.75], "nice": false, "zero": false}, "axis": {"orient": "left", "values": [-0.5,-0.25,0,0.25,0.5,0.75,1,1.25,1.5], "labelExpr": "datum.value % 0.5 == 0 ? (datum.value < 0 ? '-' + format(-datum.value, '.1f') : format(datum.value, '.1f')) : ''", "title": null}}}},
    {"data": {"values": [{}]},
     "mark": {"type": "text", "text": "I", "fontSize": 12.5, "fontWeight": "bold", "fontStyle": "italic"},
     "encoding": {
      "x": {"datum": -36.6, "type": "quantitative", "scale": {"domain": [-70, -34], "nice": false, "zero": false}, "axis": {"orient": "top", "values": [-70,-65,-60,-55,-50,-45,-40,-35], "labels": false, "title": "1665 MHz", "titleX": 89, "titleY": -7.5, "titleAlign": "center", "titleBaseline": "alphabetic", "titleFontSize": 15}},
      "y": {"datum": 1.33, "type": "quantitative", "scale": {"domain": [-0.75, 1.75], "nice": false, "zero": false}, "axis": {"orient": "right", "values": [-0.5,-0.25,0,0.25,0.5,0.75,1,1.25,1.5], "labels": false, "title": null}}}}
   ], "resolve": {"axis": {"x": "independent", "y": "independent"}}},
  {"width": 172, "height": 105, "layer": [
    {"mark": {"type": "line", "color": "black", "strokeWidth": 1.3, "clip": true},
     "encoding": {
      "x": {"field": "v", "type": "quantitative", "scale": {"domain": [-70, -34], "nice": false, "zero": false}, "axis": {"orient": "bottom", "values": [-70,-65,-60,-55,-50,-45,-40,-35], "labels": false, "title": null}},
      "y": {"field": "Q1665", "type": "quantitative", "scale": {"domain": [-0.75, 1.75], "nice": false, "zero": false}, "axis": {"orient": "left", "values": [-0.5,-0.25,0,0.25,0.5,0.75,1,1.25,1.5], "labelExpr": "datum.value % 0.5 == 0 ? (datum.value < 0 ? '-' + format(-datum.value, '.1f') : format(datum.value, '.1f')) : ''", "title": null}}}},
    {"data": {"values": [{}]},
     "mark": {"type": "text", "text": "Q", "fontSize": 12.5, "fontWeight": "bold", "fontStyle": "italic"},
     "encoding": {
      "x": {"datum": -36.6, "type": "quantitative", "scale": {"domain": [-70, -34], "nice": false, "zero": false}, "axis": {"orient": "top", "values": [-70,-65,-60,-55,-50,-45,-40,-35], "labels": false, "title": null}},
      "y": {"datum": 1.33, "type": "quantitative", "scale": {"domain": [-0.75, 1.75], "nice": false, "zero": false}, "axis": {"orient": "right", "values": [-0.5,-0.25,0,0.25,0.5,0.75,1,1.25,1.5], "labels": false, "title": null}}}}
   ], "resolve": {"axis": {"x": "independent", "y": "independent"}}},
  {"width": 172, "height": 105, "layer": [
    {"mark": {"type": "line", "color": "black", "strokeWidth": 1.3, "clip": true},
     "encoding": {
      "x": {"field": "v", "type": "quantitative", "scale": {"domain": [-70, -34], "nice": false, "zero": false}, "axis": {"orient": "bottom", "values": [-70,-65,-60,-55,-50,-45,-40,-35], "labels": false, "title": null}},
      "y": {"field": "U1665", "type": "quantitative", "scale": {"domain": [-0.75, 1.75], "nice": false, "zero": false}, "axis": {"orient": "left", "values": [-0.5,-0.25,0,0.25,0.5,0.75,1,1.25,1.5], "labelExpr": "datum.value % 0.5 == 0 ? (datum.value < 0 ? '-' + format(-datum.value, '.1f') : format(datum.value, '.1f')) : ''", "title": null}}}},
    {"data": {"values": [{}]},
     "mark": {"type": "text", "text": "U", "fontSize": 12.5, "fontWeight": "bold", "fontStyle": "italic"},
     "encoding": {
      "x": {"datum": -36.6, "type": "quantitative", "scale": {"domain": [-70, -34], "nice": false, "zero": false}, "axis": {"orient": "top", "values": [-70,-65,-60,-55,-50,-45,-40,-35], "labels": false, "title": null}},
      "y": {"datum": 1.33, "type": "quantitative", "scale": {"domain": [-0.75, 1.75], "nice": false, "zero": false}, "axis": {"orient": "right", "values": [-0.5,-0.25,0,0.25,0.5,0.75,1,1.25,1.5], "labels": false, "title": null}}}}
   ], "resolve": {"axis": {"x": "independent", "y": "independent"}}},
  {"width": 172, "height": 105, "layer": [
    {"mark": {"type": "line", "color": "black", "strokeWidth": 1.3, "clip": true},
     "encoding": {
      "x": {"field": "v", "type": "quantitative", "scale": {"domain": [-70, -34], "nice": false, "zero": false}, "axis": {"orient": "bottom", "values": [-70,-65,-60,-55,-50,-45,-40,-35], "labelExpr": "datum.value % 10 == 0 ? '-' + format(-datum.value, 'd') : ''", "title": "V", "titleX": 66.5, "titleY": 36, "titleAngle": 0, "titleAlign": "left", "titleBaseline": "alphabetic", "titleFontSize": 18, "titleFontStyle": "italic"}},
      "y": {"field": "V1665", "type": "quantitative", "scale": {"domain": [-0.75, 1.75], "nice": false, "zero": false}, "axis": {"orient": "left", "values": [-0.5,-0.25,0,0.25,0.5,0.75,1,1.25,1.5], "labelExpr": "datum.value % 0.5 == 0 ? (datum.value < 0 ? '-' + format(-datum.value, '.1f') : format(datum.value, '.1f')) : ''", "title": null}}}},
    {"data": {"values": [{}]},
     "mark": {"type": "text", "text": "V", "fontSize": 12.5, "fontWeight": "bold", "fontStyle": "italic"},
     "encoding": {
      "x": {"datum": -36.6, "type": "quantitative", "scale": {"domain": [-70, -34], "nice": false, "zero": false}, "axis": {"orient": "top", "values": [-70,-65,-60,-55,-50,-45,-40,-35], "labels": false, "title": "LSR", "titleX": 76, "titleY": 147, "titleAngle": 0, "titleAlign": "left", "titleBaseline": "alphabetic", "titleFontSize": 10}},
      "y": {"datum": 1.33, "type": "quantitative", "scale": {"domain": [-0.75, 1.75], "nice": false, "zero": false}, "axis": {"orient": "right", "values": [-0.5,-0.25,0,0.25,0.5,0.75,1,1.25,1.5], "labels": false, "title": ", km/s", "titleX": -77, "titleY": 141, "titleAngle": 0, "titleAlign": "left", "titleBaseline": "alphabetic", "titleFontSize": 18}}}}
   ], "resolve": {"axis": {"x": "independent", "y": "independent"}}}
 ]},
{"spacing": 0, "bounds": "flush",
 "vconcat": [
  {"width": 172, "height": 105, "layer": [
    {"mark": {"type": "line", "color": "black", "strokeWidth": 1.3, "clip": true},
     "encoding": {
      "x": {"field": "v", "type": "quantitative", "scale": {"domain": [-70, -34], "nice": false, "zero": false}, "axis": {"orient": "bottom", "values": [-70,-65,-60,-55,-50,-45,-40,-35], "labels": false, "title": null}},
      "y": {"field": "I1667", "type": "quantitative", "scale": {"domain": [-0.75, 1.75], "nice": false, "zero": false}, "axis": {"orient": "left", "values": [-0.5,-0.25,0,0.25,0.5,0.75,1,1.25,1.5], "labelExpr": "datum.value % 0.5 == 0 ? (datum.value < 0 ? '-' + format(-datum.value, '.1f') : format(datum.value, '.1f')) : ''", "title": null}}}},
    {"data": {"values": [{}]},
     "mark": {"type": "text", "text": "I", "fontSize": 12.5, "fontWeight": "bold", "fontStyle": "italic"},
     "encoding": {
      "x": {"datum": -36.6, "type": "quantitative", "scale": {"domain": [-70, -34], "nice": false, "zero": false}, "axis": {"orient": "top", "values": [-70,-65,-60,-55,-50,-45,-40,-35], "labels": false, "title": "1667 MHz", "titleX": 88, "titleY": -7.5, "titleAlign": "center", "titleBaseline": "alphabetic", "titleFontSize": 15}},
      "y": {"datum": 1.33, "type": "quantitative", "scale": {"domain": [-0.75, 1.75], "nice": false, "zero": false}, "axis": {"orient": "right", "values": [-0.5,-0.25,0,0.25,0.5,0.75,1,1.25,1.5], "labels": false, "title": null}}}}
   ], "resolve": {"axis": {"x": "independent", "y": "independent"}}},
  {"width": 172, "height": 105, "layer": [
    {"mark": {"type": "line", "color": "black", "strokeWidth": 1.3, "clip": true},
     "encoding": {
      "x": {"field": "v", "type": "quantitative", "scale": {"domain": [-70, -34], "nice": false, "zero": false}, "axis": {"orient": "bottom", "values": [-70,-65,-60,-55,-50,-45,-40,-35], "labels": false, "title": null}},
      "y": {"field": "Q1667", "type": "quantitative", "scale": {"domain": [-0.75, 1.75], "nice": false, "zero": false}, "axis": {"orient": "left", "values": [-0.5,-0.25,0,0.25,0.5,0.75,1,1.25,1.5], "labelExpr": "datum.value % 0.5 == 0 ? (datum.value < 0 ? '-' + format(-datum.value, '.1f') : format(datum.value, '.1f')) : ''", "title": null}}}},
    {"data": {"values": [{}]},
     "mark": {"type": "text", "text": "Q", "fontSize": 12.5, "fontWeight": "bold", "fontStyle": "italic"},
     "encoding": {
      "x": {"datum": -36.6, "type": "quantitative", "scale": {"domain": [-70, -34], "nice": false, "zero": false}, "axis": {"orient": "top", "values": [-70,-65,-60,-55,-50,-45,-40,-35], "labels": false, "title": null}},
      "y": {"datum": 1.33, "type": "quantitative", "scale": {"domain": [-0.75, 1.75], "nice": false, "zero": false}, "axis": {"orient": "right", "values": [-0.5,-0.25,0,0.25,0.5,0.75,1,1.25,1.5], "labels": false, "title": null}}}}
   ], "resolve": {"axis": {"x": "independent", "y": "independent"}}},
  {"width": 172, "height": 105, "layer": [
    {"mark": {"type": "line", "color": "black", "strokeWidth": 1.3, "clip": true},
     "encoding": {
      "x": {"field": "v", "type": "quantitative", "scale": {"domain": [-70, -34], "nice": false, "zero": false}, "axis": {"orient": "bottom", "values": [-70,-65,-60,-55,-50,-45,-40,-35], "labels": false, "title": null}},
      "y": {"field": "U1667", "type": "quantitative", "scale": {"domain": [-0.75, 1.75], "nice": false, "zero": false}, "axis": {"orient": "left", "values": [-0.5,-0.25,0,0.25,0.5,0.75,1,1.25,1.5], "labelExpr": "datum.value % 0.5 == 0 ? (datum.value < 0 ? '-' + format(-datum.value, '.1f') : format(datum.value, '.1f')) : ''", "title": null}}}},
    {"data": {"values": [{}]},
     "mark": {"type": "text", "text": "U", "fontSize": 12.5, "fontWeight": "bold", "fontStyle": "italic"},
     "encoding": {
      "x": {"datum": -36.6, "type": "quantitative", "scale": {"domain": [-70, -34], "nice": false, "zero": false}, "axis": {"orient": "top", "values": [-70,-65,-60,-55,-50,-45,-40,-35], "labels": false, "title": null}},
      "y": {"datum": 1.33, "type": "quantitative", "scale": {"domain": [-0.75, 1.75], "nice": false, "zero": false}, "axis": {"orient": "right", "values": [-0.5,-0.25,0,0.25,0.5,0.75,1,1.25,1.5], "labels": false, "title": null}}}}
   ], "resolve": {"axis": {"x": "independent", "y": "independent"}}},
  {"width": 172, "height": 105, "layer": [
    {"mark": {"type": "line", "color": "black", "strokeWidth": 1.3, "clip": true},
     "encoding": {
      "x": {"field": "v", "type": "quantitative", "scale": {"domain": [-70, -34], "nice": false, "zero": false}, "axis": {"orient": "bottom", "values": [-70,-65,-60,-55,-50,-45,-40,-35], "labelExpr": "datum.value % 10 == 0 ? '-' + format(-datum.value, 'd') : ''", "title": null}},
      "y": {"field": "V1667", "type": "quantitative", "scale": {"domain": [-0.75, 1.75], "nice": false, "zero": false}, "axis": {"orient": "left", "values": [-0.5,-0.25,0,0.25,0.5,0.75,1,1.25,1.5], "labelExpr": "datum.value % 0.5 == 0 ? (datum.value < 0 ? '-' + format(-datum.value, '.1f') : format(datum.value, '.1f')) : ''", "title": null}}}},
    {"data": {"values": [{}]},
     "mark": {"type": "text", "text": "V", "fontSize": 12.5, "fontWeight": "bold", "fontStyle": "italic"},
     "encoding": {
      "x": {"datum": -36.6, "type": "quantitative", "scale": {"domain": [-70, -34], "nice": false, "zero": false}, "axis": {"orient": "top", "values": [-70,-65,-60,-55,-50,-45,-40,-35], "labels": false, "title": null}},
      "y": {"datum": 1.33, "type": "quantitative", "scale": {"domain": [-0.75, 1.75], "nice": false, "zero": false}, "axis": {"orient": "right", "values": [-0.5,-0.25,0,0.25,0.5,0.75,1,1.25,1.5], "labels": false, "title": null}}}}
   ], "resolve": {"axis": {"x": "independent", "y": "independent"}}}
 ]}
 ]}
]
}
